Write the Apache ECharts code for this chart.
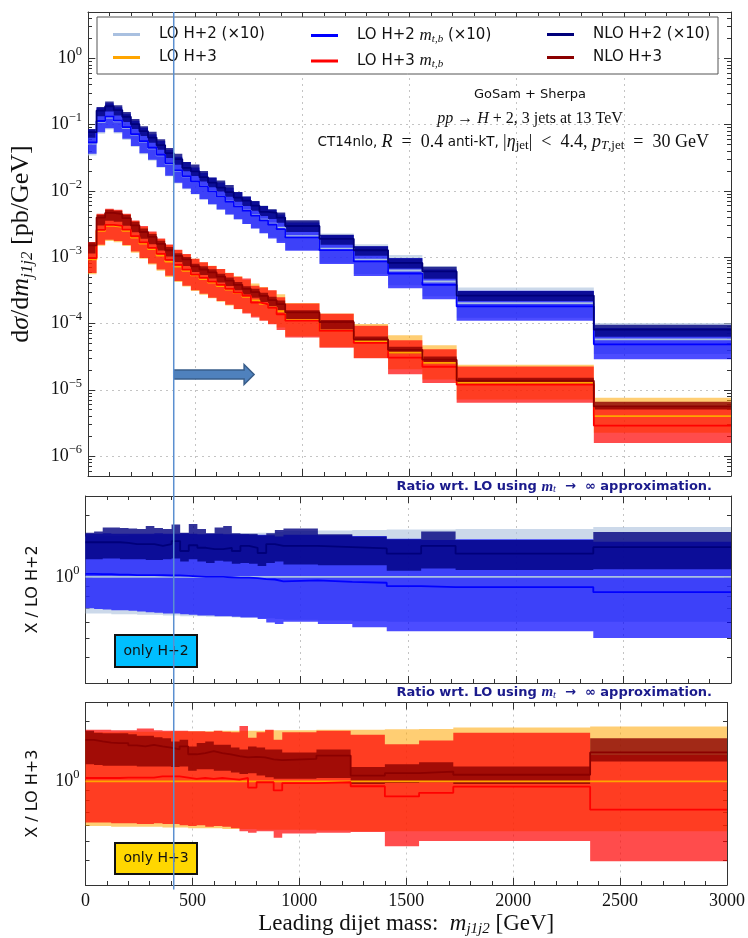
<!DOCTYPE html>
<html><head><meta charset="utf-8">
<script src="https://cdn.jsdelivr.net/npm/echarts@6/dist/echarts.min.js"></script>
<style>html,body{margin:0;padding:0;background:#fff}#c{width:748px;height:938px}</style>
</head><body><div id="c"></div>
<script>
// ---------- data ----------
const edges = [0,40,80,120,160,200,240,280,320,360,400,440,480,520,560,600,640,680,720,760,800,840,880,920,1080,1240,1400,1560,1720,2360,3000];
// LO H+2 (m_t -> inf) central value, as plotted (x10), pb/GeV
const lo_h2_x10 = [0.0519,0.110,0.128,0.112,0.0894,0.0701,0.0550,0.0439,0.0345,0.0257,0.0201,0.0166,0.0138,0.0116,0.00973,0.00818,0.00688,0.00589,0.00504,0.00431,0.00369,0.00321,0.00279,0.00208,0.00135,0.000922,0.000630,0.000430,0.000203,0.0000576];
// LO H+3 (m_t -> inf) central value, pb/GeV
const lo_h3 = [0.000931,0.00249,0.00296,0.00286,0.00249,0.00198,0.00160,0.00132,0.00106,0.000860,0.000720,0.000620,0.000531,0.000469,0.000415,0.000367,0.000324,0.000286,0.000252,0.000223,0.000197,0.000174,0.000153,0.000113,0.0000779,0.0000538,0.0000364,0.0000254,0.0000127,0.0000040];
// ratios to LO H+2
const r2_lo_up  = [1.58,1.58,1.59,1.59,1.59,1.60,1.60,1.60,1.61,1.61,1.61,1.62,1.62,1.62,1.63,1.63,1.63,1.64,1.64,1.64,1.65,1.65,1.66,1.68,1.69,1.70,1.71,1.71,1.72,1.76];
const r2_lo_dn  = [0.66,0.66,0.66,0.655,0.655,0.655,0.65,0.65,0.65,0.645,0.645,0.64,0.64,0.64,0.635,0.635,0.635,0.63,0.63,0.63,0.625,0.625,0.62,0.615,0.61,0.605,0.60,0.60,0.60,0.60];
const r2_mtb    = [1.035,1.03,1.03,1.025,1.025,1.02,1.02,1.02,1.018,1.015,1.015,1.01,1.005,1.0,1.0,1.0,0.995,0.99,0.99,0.985,0.975,0.97,0.95,0.96,0.945,0.935,0.90,0.89,0.89,0.84];
const r2_mtb_up = [1.63,1.63,1.64,1.63,1.63,1.63,1.63,1.63,1.64,1.63,1.63,1.64,1.63,1.62,1.63,1.63,1.62,1.62,1.62,1.61,1.61,1.60,1.58,1.61,1.60,1.59,1.54,1.52,1.53,1.49];
const r2_mtb_dn = [0.70,0.695,0.69,0.685,0.685,0.68,0.675,0.67,0.665,0.66,0.66,0.655,0.65,0.645,0.645,0.64,0.64,0.635,0.63,0.63,0.62,0.595,0.585,0.60,0.585,0.565,0.54,0.54,0.54,0.50];
const r2_nlo_up = [1.65,1.67,1.75,1.75,1.74,1.73,1.72,1.78,1.74,1.72,1.81,1.65,1.82,1.72,1.64,1.75,1.78,1.64,1.63,1.63,1.60,1.64,1.70,1.73,1.62,1.58,1.53,1.67,1.52,1.66];
const r2_nlo    = [1.48,1.48,1.48,1.48,1.47,1.45,1.45,1.45,1.42,1.45,1.50,1.34,1.43,1.39,1.37,1.37,1.39,1.34,1.42,1.39,1.31,1.45,1.42,1.42,1.40,1.38,1.30,1.42,1.30,1.40];
const r2_nlo_dn = [1.22,1.22,1.23,1.23,1.22,1.22,1.22,1.21,1.21,1.22,1.23,1.19,1.22,1.19,1.17,1.20,1.19,1.16,1.17,1.16,1.13,1.17,1.19,1.15,1.14,1.14,1.07,1.10,1.08,1.09];
// ratios to LO H+3
const r3_lo_up  = [1.77,1.77,1.77,1.77,1.78,1.78,1.78,1.78,1.78,1.78,1.79,1.79,1.79,1.79,1.79,1.80,1.80,1.80,1.80,1.80,1.80,1.81,1.81,1.81,1.82,1.82,1.83,1.84,1.87,1.89];
const r3_lo_dn  = [0.595,0.595,0.595,0.59,0.59,0.59,0.59,0.59,0.59,0.585,0.585,0.585,0.58,0.58,0.58,0.58,0.575,0.575,0.575,0.575,0.57,0.57,0.57,0.57,0.565,0.56,0.56,0.56,0.56,0.56];
const r3_mtb    = [1.04,1.04,1.04,1.04,1.045,1.045,1.045,1.045,1.06,1.06,1.06,1.045,1.03,1.04,1.03,1.04,1.03,1.02,1.04,0.93,0.99,0.99,0.90,0.98,0.99,0.945,0.84,0.875,0.94,0.72];
const r3_mtb_up = [1.82,1.82,1.82,1.81,1.81,1.81,1.85,1.85,1.81,1.80,1.80,1.80,1.79,1.79,1.78,1.80,1.78,1.77,1.90,1.66,1.77,1.82,1.62,1.77,1.80,1.72,1.54,1.61,1.76,1.36];
const r3_mtb_dn = [0.62,0.62,0.62,0.615,0.615,0.615,0.61,0.61,0.615,0.61,0.61,0.60,0.595,0.60,0.59,0.595,0.59,0.58,0.56,0.55,0.56,0.56,0.52,0.545,0.55,0.555,0.47,0.50,0.50,0.395];
const r3_nlo_up = [1.80,1.76,1.75,1.75,1.75,1.73,1.70,1.70,1.67,1.65,1.59,1.62,1.50,1.56,1.59,1.53,1.53,1.48,1.45,1.50,1.48,1.45,1.45,1.40,1.45,1.18,1.22,1.25,1.19,1.65];
const r3_nlo    = [1.62,1.59,1.57,1.56,1.56,1.52,1.50,1.53,1.50,1.48,1.45,1.50,1.37,1.39,1.42,1.39,1.37,1.34,1.32,1.33,1.32,1.29,1.28,1.30,1.35,1.07,1.10,1.12,1.08,1.40];
const r3_nlo_dn = [1.22,1.21,1.20,1.20,1.20,1.20,1.19,1.19,1.19,1.19,1.18,1.19,1.13,1.15,1.15,1.13,1.13,1.11,1.09,1.10,1.07,1.05,1.03,1.03,1.04,0.97,0.98,0.99,0.97,1.26];
// annotations
const marker_x = 400;
const arrow = [400, 775, 1.7e-5];

// ---------- helpers ----------
const N = lo_h2_x10.length;
const mul = (base, r) => base.map((v, i) => v * r[i]);
const ones = lo_h2_x10.map((v, i) => v / lo_h2_x10[i]);
function stepData(vals) { const d = vals.map((v, i) => [edges[i], v]); d.push([edges[N], vals[N - 1]]); return d; }
function band(g, lo, hi, color, z) {
  return { type: 'custom', xAxisIndex: g * 2, yAxisIndex: g * 2, clip: true, silent: true, z: z,
    data: [[1000, 1]], encode: { x: 0, y: 1 },
    renderItem: function (params, api) {
      const pts = [];
      for (let i = 0; i < N; i++) { pts.push(api.coord([edges[i], hi[i]])); pts.push(api.coord([edges[i + 1], hi[i]])); }
      for (let i = N - 1; i >= 0; i--) { pts.push(api.coord([edges[i + 1], lo[i]])); pts.push(api.coord([edges[i], lo[i]])); }
      return { type: 'polygon', shape: { points: pts }, style: { fill: color } };
    } };
}
function line(g, name, vals, color, z, w) {
  return { type: 'line', name: name, xAxisIndex: g * 2, yAxisIndex: g * 2, data: stepData(vals), step: 'end',
    showSymbol: false, symbol: 'none', silent: true, clip: true, z: z,
    lineStyle: { color: color, width: w || 1.8 }, itemStyle: { color: color } };
}
const C = {
  lo2B: 'rgba(176,196,222,0.65)', lo2L: '#a9c0e0',
  mt2B: 'rgba(0,0,255,0.7)', mt2L: '#0000ff',
  nl2B: 'rgba(0,0,128,0.8)', nl2L: '#00007a',
  lo3B: 'rgba(255,165,0,0.55)', lo3L: '#ffa500',
  mt3B: 'rgba(255,0,0,0.7)', mt3L: '#ff0000',
  nl3B: 'rgba(139,0,0,0.8)', nl3L: '#8b0000'
};
const NAMES = ['LO H+2 (×10)', 'LO H+3', 'LO H+2 mtb (×10)', 'LO H+3 mtb', 'NLO H+2 (×10)', 'NLO H+3'];

const SERIF = 'Liberation Serif';
const SANS = 'DejaVu Sans';
const sup = e => (e < 0 ? '−' : '') + Math.abs(e);
function powLabel(v) { const l = Math.log10(v); const r = Math.round(l); if (Math.abs(l - r) > 1e-6) return ''; return '{b|10}{e|' + sup(r) + '}'; }
const powRich = { b: { fontFamily: SERIF, fontSize: 18, lineHeight: 26, color: '#111' },
                  e: { fontFamily: SERIF, fontSize: 12.5, lineHeight: 13, verticalAlign: 'top', color: '#111' } };

const AX = '#333';
function xAx(g, pos) {
  const bottom = pos === 'bottom';
  const o = { type: 'value', gridIndex: g, position: pos, min: 0, max: 3000, interval: 500,
    axisLine: { show: true, onZero: false, lineStyle: { color: AX, width: 1 } },
    axisTick: { show: true, inside: true, length: 7, lineStyle: { color: AX } },
    minorTick: { show: true, splitNumber: 5, length: 4, lineStyle: { color: AX } },
    axisLabel: { show: bottom && g === 2, fontFamily: SERIF, fontSize: 18, color: '#111', margin: 7, formatter: v => String(v) },
    splitLine: { show: bottom, lineStyle: { color: '#c4c4c4', type: [2, 4], width: 1 } } };
  if (bottom && g === 2) {
    o.name = '{n|Leading dijet mass:  }{i|m}{s|j1j2}{n| [GeV]}';
    o.nameLocation = 'middle'; o.nameGap = 26;
    o.nameTextStyle = { rich: { n: { fontFamily: SERIF, fontSize: 23, lineHeight: 26, color: '#111' },
      i: { fontFamily: SERIF, fontStyle: 'italic', fontSize: 23, lineHeight: 26, color: '#111' },
      s: { fontFamily: SERIF, fontStyle: 'italic', fontSize: 15, lineHeight: 9, verticalAlign: 'bottom', color: '#111' } } };
  }
  return o;
}
function yAx(g, pos, min, max, name) {
  const left = pos === 'left';
  const o = { type: 'log', logBase: 10, gridIndex: g, position: pos, min: min, max: max,
    axisLine: { show: true, onZero: false, lineStyle: { color: AX, width: 1 } },
    axisTick: { show: true, inside: true, length: 7, lineStyle: { color: AX } },
    minorTick: { show: true, splitNumber: 9, length: 4, lineStyle: { color: AX } },
    axisLabel: { show: left, formatter: powLabel, rich: powRich, margin: 6 },
    splitLine: { show: left && g === 0, lineStyle: { color: '#c4c4c4', type: [2, 4], width: 1 } } };
  if (left && name) {
    o.name = name.text; o.nameLocation = 'middle'; o.nameGap = name.gap; o.nameRotate = 90;
    o.nameTextStyle = { rich: name.rich };
  }
  return o;
}
const yTitle0 = { text: '{n|d}{i|σ}{n|/d}{i|m}{s|j1j2}{n| [pb/GeV]}', gap: 52,
  rich: { n: { fontFamily: SERIF, fontSize: 26, lineHeight: 30, color: '#111' },
          i: { fontFamily: SERIF, fontStyle: 'italic', fontSize: 26, lineHeight: 30, color: '#111' },
          s: { fontFamily: SERIF, fontStyle: 'italic', fontSize: 17, lineHeight: 11, verticalAlign: 'bottom', color: '#111' } } };
const rT = t => ({ text: '{n|' + t + '}', gap: 45, rich: { n: { fontFamily: SANS, fontSize: 16, color: '#111' } } });

const legendRich = { n: { fontFamily: SANS, fontSize: 15, lineHeight: 18, color: '#111' },
  i: { fontFamily: SERIF, fontStyle: 'italic', fontSize: 17, lineHeight: 18, color: '#111' },
  s: { fontFamily: SERIF, fontStyle: 'italic', fontSize: 11, lineHeight: 8, verticalAlign: 'bottom', color: '#111' } };
function legFmt(name) {
  if (name.indexOf(' mtb') >= 0) { const p = name.split(' mtb'); return '{n|' + p[0] + ' }{i|m}{s|t,b}' + (p[1] ? '{n|' + p[1] + '}' : ''); }
  return '{n|' + name + '}';
}
function leg(names, left) {
  return { data: names, left: left, top: 22, orient: 'vertical', itemGap: 8, itemWidth: 27, itemHeight: 3, icon: 'rect',
    selectedMode: false, formatter: legFmt, textStyle: { rich: legendRich, padding: [0, 0, 0, 14] } };
}

const series = [
  band(0, mul(lo_h2_x10, r2_lo_dn), mul(lo_h2_x10, r2_lo_up), C.lo2B, 2),
  band(0, mul(lo_h2_x10, r2_mtb_dn), mul(lo_h2_x10, r2_mtb_up), C.mt2B, 2),
  band(0, mul(lo_h2_x10, r2_nlo_dn), mul(lo_h2_x10, r2_nlo_up), C.nl2B, 2),
  band(0, mul(lo_h3, r3_lo_dn), mul(lo_h3, r3_lo_up), C.lo3B, 2),
  band(0, mul(lo_h3, r3_mtb_dn), mul(lo_h3, r3_mtb_up), C.mt3B, 2),
  band(0, mul(lo_h3, r3_nlo_dn), mul(lo_h3, r3_nlo_up), C.nl3B, 2),
  line(0, NAMES[0], lo_h2_x10, C.lo2L, 3),
  line(0, NAMES[2], mul(lo_h2_x10, r2_mtb), C.mt2L, 3),
  line(0, NAMES[4], mul(lo_h2_x10, r2_nlo), C.nl2L, 3),
  line(0, NAMES[1], lo_h3, C.lo3L, 3),
  line(0, NAMES[3], mul(lo_h3, r3_mtb), C.mt3L, 3),
  line(0, NAMES[5], mul(lo_h3, r3_nlo), C.nl3L, 3),
  band(1, r2_lo_dn, r2_lo_up, C.lo2B, 2),
  band(1, r2_mtb_dn, r2_mtb_up, C.mt2B, 2),
  band(1, r2_nlo_dn, r2_nlo_up, C.nl2B, 2),
  line(1, 'r2lo', ones, C.lo2L, 3),
  line(1, 'r2mt', r2_mtb, C.mt2L, 3),
  line(1, 'r2nl', r2_nlo, C.nl2L, 3),
  band(2, r3_lo_dn, r3_lo_up, C.lo3B, 2),
  band(2, r3_mtb_dn, r3_mtb_up, C.mt3B, 2),
  band(2, r3_nlo_dn, r3_nlo_up, C.nl3B, 2),
  line(2, 'r3lo', ones, C.lo3L, 3),
  line(2, 'r3mt', r3_mtb, C.mt3L, 3),
  line(2, 'r3nl', r3_nlo, C.nl3L, 3),
  { type: 'custom', xAxisIndex: 0, yAxisIndex: 0, clip: false, silent: true, z: 10, data: [arrow], encode: { x: 0, y: 2 },
    renderItem: function (params, api) {
      const a = api.coord([api.value(0), api.value(2)]); const b = api.coord([api.value(1), api.value(2)]);
      const y = a[1], h = 4.5, H = 10, L = 10;
      return { type: 'polygon', shape: { points: [[a[0], y - h], [b[0] - L, y - h], [b[0] - L, y - H], [b[0], y], [b[0] - L, y + H], [b[0] - L, y + h], [a[0], y + h]] },
        style: { fill: '#4f81bd', stroke: '#385d8a', lineWidth: 1.5 } };
    } }
];

const grids = [
  { left: 85.5, top: 12, width: 645.5, height: 464 },
  { left: 85.5, top: 496, width: 645.5, height: 187 },
  { left: 85.5, top: 702.5, width: 645.5, height: 187 }
];

const option = {
  animation: false,
  backgroundColor: '#fff',
  grid: grids,
  xAxis: [xAx(0, 'bottom'), xAx(0, 'top'), xAx(1, 'bottom'), xAx(1, 'top'), xAx(2, 'bottom'), xAx(2, 'top')],
  yAxis: [yAx(0, 'left', 5e-7, 5, yTitle0), yAx(0, 'right', 5e-7, 5),
          yAx(1, 'left', 0.3, 2.5, rT('X / LO H+2')), yAx(1, 'right', 0.3, 2.5),
          yAx(2, 'left', 0.3, 2.5, rT('X / LO H+3')), yAx(2, 'right', 0.3, 2.5)],
  legend: [leg([NAMES[0], NAMES[1]], 108), leg([NAMES[2], NAMES[3]], 306), leg([NAMES[4], NAMES[5]], 542)],
  series: series
};

const chart = echarts.init(document.getElementById('c'), null, { renderer: 'canvas', width: 748, height: 938 });
chart.setOption(option);

const xPix = chart.convertToPixel({ xAxisIndex: 0 }, marker_x);
const NAVY = '#1b1b8c';
const ratioRich = { s: { fontFamily: SANS, fontSize: 13, fontWeight: 'bold', fill: NAVY, lineHeight: 16 },
  i: { fontFamily: SERIF, fontStyle: 'italic', fontWeight: 'bold', fontSize: 15, fill: NAVY, lineHeight: 16 },
  sub: { fontFamily: SERIF, fontStyle: 'italic', fontSize: 10.5, fill: NAVY, verticalAlign: 'bottom', lineHeight: 7 } };
const ratioText = '{s|Ratio wrt. LO using }{i|m}{sub|t}{s|  →  ∞ approximation.}';
const ES = '\u2002';
const mathR = { fontFamily: SERIF, fontSize: 18, fill: '#111', lineHeight: 20 };
const subR = { fontFamily: SERIF, fontSize: 13, fill: '#111', lineHeight: 7, verticalAlign: 'bottom' };
chart.setOption({ graphic: [
  { type: 'rect', z: 3, shape: { x: 97, y: 17, width: 621, height: 57 }, style: { fill: '#fff', stroke: '#555', lineWidth: 1 } },
  { type: 'text', z: 5, x: 530, y: 95, style: { text: 'GoSam + Sherpa', font: '13px "DejaVu Sans"', fill: '#111', align: 'center', verticalAlign: 'middle' } },
  { type: 'text', z: 5, x: 530, y: 119, style: { text: '{i|pp}{r| → }{i|H}{r| + 2, 3 jets at 13 TeV}', align: 'center', verticalAlign: 'middle',
      rich: { i: { fontFamily: SERIF, fontStyle: 'italic', fontSize: 16, fill: '#111' }, r: { fontFamily: SERIF, fontSize: 16, fill: '#111' } } } },
  { type: 'text', z: 5, x: 709, y: 142, style: {
      text: '{s|CT14nlo, }{i|R}{r|' + ES + '=' + ES + '0.4 }{s|anti-kT, }{r||}{i|η}{b|jet}{r||' + ES + '<' + ES + '4.4, }{i|p}{bi|T}{b|,jet}{r|' + ES + '=' + ES + '30 GeV}',
      align: 'right', verticalAlign: 'middle',
      rich: { s: { fontFamily: SANS, fontSize: 13.5, fill: '#111', lineHeight: 20 }, i: Object.assign({}, mathR, { fontStyle: 'italic' }),
              r: mathR, b: subR, bi: Object.assign({}, subR, { fontStyle: 'italic' }) } } },
  { type: 'text', z: 5, x: 712, y: 487, style: { text: ratioText, align: 'right', verticalAlign: 'middle', rich: ratioRich } },
  { type: 'text', z: 5, x: 712, y: 692.5, style: { text: ratioText, align: 'right', verticalAlign: 'middle', rich: ratioRich } },
  { type: 'rect', z: 8, shape: { x: 115, y: 635, width: 82, height: 32 }, style: { fill: '#00bfff', stroke: '#111', lineWidth: 2 } },
  { type: 'text', z: 9, x: 156, y: 651, style: { text: 'only H+2', font: '14px "DejaVu Sans"', fill: '#111', align: 'center', verticalAlign: 'middle' } },
  { type: 'rect', z: 8, shape: { x: 115, y: 843, width: 82, height: 31 }, style: { fill: '#ffd700', stroke: '#111', lineWidth: 2 } },
  { type: 'text', z: 9, x: 156, y: 858.5, style: { text: 'only H+3', font: '14px "DejaVu Sans"', fill: '#111', align: 'center', verticalAlign: 'middle' } },
  { type: 'line', z: 20, shape: { x1: xPix, y1: 12, x2: xPix, y2: 889.5 }, style: { stroke: '#5b8fd0', lineWidth: 1.5 } }
] });
</script></body></html>
